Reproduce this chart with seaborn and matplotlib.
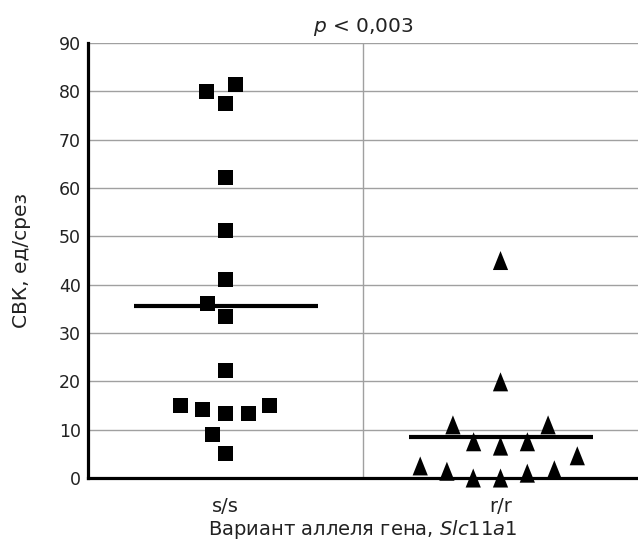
import matplotlib
matplotlib.use("Agg")
import matplotlib.pyplot as plt
import seaborn as sns
import pandas as pd

# data
groups = ["s/s", "r/r"]
ss_values = [80.0, 77.4, 81.5, 62.1, 51.3, 41.1, 36.2, 33.4, 22.2,
             15.1, 13.3, 13.3, 14.2, 15.1, 8.9, 5.1]
rr_values = [45.0, 19.9, 11.0, 11.0, 7.5, 6.6, 7.5, 4.6, 1.4, 1.0,
             0.0, 0.0, 1.7, 2.5]
y_ticks = [0, 10, 20, 30, 40, 50, 60, 70, 80, 90]

title_text = r"$\it{p}$ < 0,003"
x_label = r"Вариант аллеля гена, $\it{Slc11a1}$"
y_label = "СВК, ед/срез"

df = pd.DataFrame({
    "group": ["s/s"] * len(ss_values) + ["r/r"] * len(rr_values),
    "value": ss_values + rr_values,
})

sns.set_style("white")
plt.rcParams["font.family"] = ["DejaVu Sans"]

fig, ax = plt.subplots(figsize=(6.38, 5.53), dpi=100)
fig.subplots_adjust(left=0.138, right=1.0, bottom=0.1356, top=0.9222)

# tall narrow triangle marker
tri = [(0, 1), (-0.8, -1), (0.8, -1)]

sns.swarmplot(data=df[df["group"] == "s/s"], x="group", y="value", order=groups,
              marker="s", size=10.8, color="black", edgecolor="none",
              linewidth=5, ax=ax)
n_before = len(ax.collections)
sns.swarmplot(data=df[df["group"] == "r/r"], x="group", y="value", order=groups,
              marker=tri, size=13.7, color="black", edgecolor="none",
              linewidth=5, ax=ax)

# triangles at zero hang over the x axis
for coll in ax.collections[n_before:]:
    if len(coll.get_offsets()) > 0:
        coll.set_clip_on(False)

# group means as wide horizontal bars
sns.pointplot(data=df, x="group", y="value", order=groups, estimator="mean",
              errorbar=None, linestyle="none", marker="_", markersize=133,
              markeredgewidth=3, color="black", ax=ax)

ax.set_xlim(-0.5, 1.5)
ax.set_ylim(0, 90)
ax.set_yticks(y_ticks)
ax.set_xticks([0.5], minor=True)

ax.yaxis.grid(True, color="#a0a0a0", lw=1)
ax.xaxis.grid(True, which="minor", color="#a0a0a0", lw=1)
ax.xaxis.grid(False, which="major")
ax.set_axisbelow(True)

for side in ["top", "right"]:
    ax.spines[side].set_visible(False)
for side in ["left", "bottom"]:
    ax.spines[side].set_color("black")
    ax.spines[side].set_linewidth(2.3)

ax.tick_params(axis="y", direction="in", length=6, width=2.3, labelsize=12.5,
               pad=5, colors="black", labelcolor="#222222")
ax.tick_params(axis="x", which="major", length=0, labelsize=14, pad=14,
               labelcolor="#222222")
ax.tick_params(axis="x", which="minor", direction="in", length=6, width=2.3,
               color="black")

ax.set_xlabel(x_label, fontsize=14, labelpad=1, color="#222222")
ax.set_ylabel(y_label, fontsize=14.5, labelpad=20, color="#222222")
ax.set_title(title_text, fontsize=14.5, pad=8, color="#222222")

fig.savefig("out.png", dpi=100)
